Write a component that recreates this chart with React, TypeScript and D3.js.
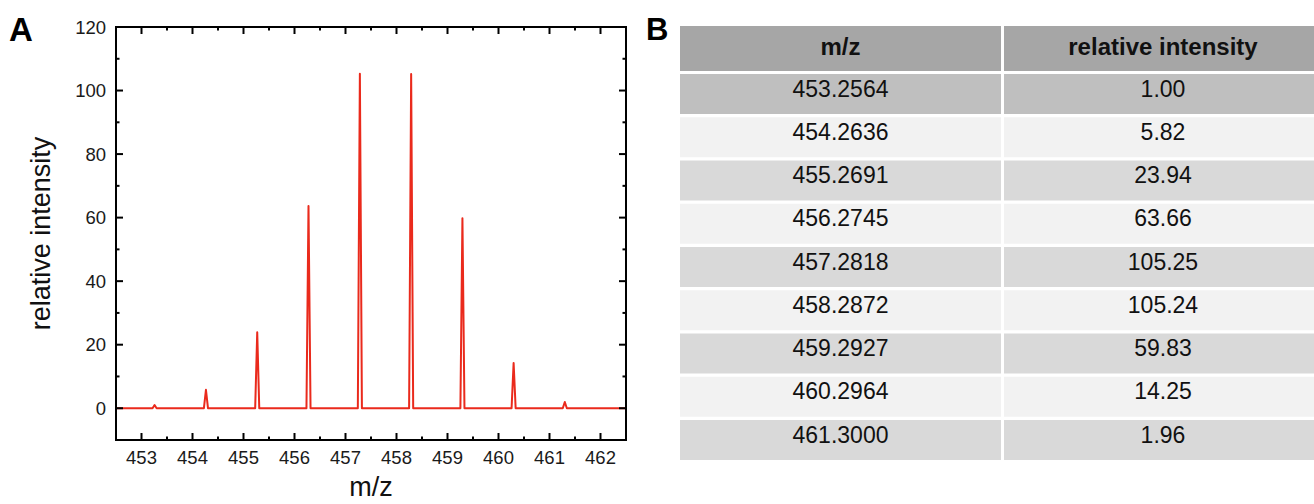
import React from "react";
import * as d3 from "d3";

// ---- data ----
const mzLabels = ["453.2564", "454.2636", "455.2691", "456.2745", "457.2818", "458.2872", "459.2927", "460.2964", "461.3000"];
const mzValues = [453.2564, 454.2636, 455.2691, 456.2745, 457.2818, 458.2872, 459.2927, 460.2964, 461.3];
const intensityLabels = ["1.00", "5.82", "23.94", "63.66", "105.25", "105.24", "59.83", "14.25", "1.96"];
const intensities = [1.0, 5.82, 23.94, 63.66, 105.25, 105.24, 59.83, 14.25, 1.96];
const xMajorTicks = [453, 454, 455, 456, 457, 458, 459, 460, 461, 462];
const xMinorTicks = [453.5, 454.5, 455.5, 456.5, 457.5, 458.5, 459.5, 460.5, 461.5];
const yMajorTicks = [0, 20, 40, 60, 80, 100, 120];
const yMinorTicks = [-10, 10, 30, 50, 70, 90, 110];
const xDomain = [452.5, 462.5];
const yDomain = [-10, 120];
const tableHeaders = ["m/z", "relative intensity"];

// ---- layout / style ----
const FONT = "'Liberation Sans', Arial, Helvetica, sans-serif";
const plot = { left: 116, right: 626, top: 27, bottom: 440 };
const MAJOR = 7;
const MINOR = 3.5;
const PEAK_HALF_WIDTH = 0.04;
const RED = "#ea2a1c";

const table = {
  left: 680,
  colSplit: 1001,
  col2Left: 1004,
  right: 1322,
  headerTop: 26,
  headerH: 45,
  rowTop: 74,
  rowPitch: 43.25,
  rowH: 40,
};

export default function App() {
  const x = d3.scaleLinear().domain(xDomain).range([plot.left, plot.right]);
  const y = d3.scaleLinear().domain(yDomain).range([plot.bottom, plot.top]);

  const pts: [number, number][] = [[xDomain[0], 0]];
  mzValues.forEach((m, i) => {
    pts.push([m - PEAK_HALF_WIDTH, 0]);
    pts.push([m, intensities[i]]);
    pts.push([m + PEAK_HALF_WIDTH, 0]);
  });
  pts.push([xDomain[1], 0]);
  const line = d3
    .line<[number, number]>()
    .x((d) => x(d[0]))
    .y((d) => y(d[1]));

  const tickLines: JSX.Element[] = [];
  const addX = (v: number, len: number, k: string) => {
    tickLines.push(<line key={"xb" + k} x1={x(v)} x2={x(v)} y1={plot.bottom} y2={plot.bottom - len} />);
    tickLines.push(<line key={"xt" + k} x1={x(v)} x2={x(v)} y1={plot.top} y2={plot.top + len} />);
  };
  const addY = (v: number, len: number, k: string) => {
    tickLines.push(<line key={"yl" + k} x1={plot.left} x2={plot.left + len} y1={y(v)} y2={y(v)} />);
    tickLines.push(<line key={"yr" + k} x1={plot.right} x2={plot.right - len} y1={y(v)} y2={y(v)} />);
  };
  xMajorTicks.forEach((v) => addX(v, MAJOR, "M" + v));
  xMinorTicks.forEach((v) => addX(v, MINOR, "m" + v));
  yMajorTicks.forEach((v) => addY(v, MAJOR, "M" + v));
  yMinorTicks.forEach((v) => addY(v, MINOR, "m" + v));

  const rowFill = (i: number) => (i === 0 ? "#bfbfbf" : i % 2 === 1 ? "#f2f2f2" : "#d9d9d9");
  const col1C = (table.left + table.colSplit) / 2;
  const col2C = (table.col2Left + table.right) / 2;

  return (
    <svg
      width={1314}
      height={504}
      style={{ position: "absolute", left: 0, top: 0, background: "#fff" }}
      fontFamily={FONT}
    >
      <rect x={0} y={0} width={1314} height={504} fill="#fff" />
      {/* Panel A */}
      <text x={9} y={41} fontSize={33} fontWeight="bold" fill="#000">A</text>

      <path d={line(pts) || ""} fill="none" stroke={RED} strokeWidth={2} strokeLinejoin="round" />

      <g stroke="#000" strokeWidth={2}>{tickLines}</g>
      <rect
        x={plot.left}
        y={plot.top}
        width={plot.right - plot.left}
        height={plot.bottom - plot.top}
        fill="none"
        stroke="#000"
        strokeWidth={2}
      />

      <g fontSize={18.5} fill="#1a1a1a">
        {xMajorTicks.map((v) => (
          <text key={"xl" + v} x={x(v)} y={463.5} textAnchor="middle">{v}</text>
        ))}
        {yMajorTicks.map((v) => (
          <text key={"yl" + v} x={106} y={y(v)} dy="0.36em" textAnchor="end">{v}</text>
        ))}
      </g>

      <text x={(plot.left + plot.right) / 2} y={496} fontSize={27} textAnchor="middle" fill="#111">m/z</text>
      <text
        transform={`translate(50, ${(plot.top + plot.bottom) / 2}) rotate(-90)`}
        fontSize={27}
        textAnchor="middle"
        fill="#111"
      >
        relative intensity
      </text>

      {/* Panel B */}
      <text x={646} y={40} fontSize={31} fontWeight="bold" fill="#000">B</text>

      <rect x={table.left} y={table.headerTop} width={table.colSplit - table.left} height={table.headerH} fill="#a6a6a6" />
      <rect x={table.col2Left} y={table.headerTop} width={table.right - table.col2Left} height={table.headerH} fill="#a6a6a6" />
      <text x={col1C} y={table.headerTop + 29} fontSize={24} fontWeight="bold" textAnchor="middle" fill="#111">{tableHeaders[0]}</text>
      <text x={col2C} y={table.headerTop + 29} fontSize={24} fontWeight="bold" textAnchor="middle" fill="#111">{tableHeaders[1]}</text>

      {mzLabels.map((lab, i) => {
        const top = table.rowTop + i * table.rowPitch;
        return (
          <g key={"row" + i}>
            <rect x={table.left} y={top} width={table.colSplit - table.left} height={table.rowH} fill={rowFill(i)} />
            <rect x={table.col2Left} y={top} width={table.right - table.col2Left} height={table.rowH} fill={rowFill(i)} />
            <text x={col1C} y={top + 22.5} fontSize={23} textAnchor="middle" fill="#111">{lab}</text>
            <text x={col2C} y={top + 22.5} fontSize={23} textAnchor="middle" fill="#111">{intensityLabels[i]}</text>
          </g>
        );
      })}
    </svg>
  );
}
